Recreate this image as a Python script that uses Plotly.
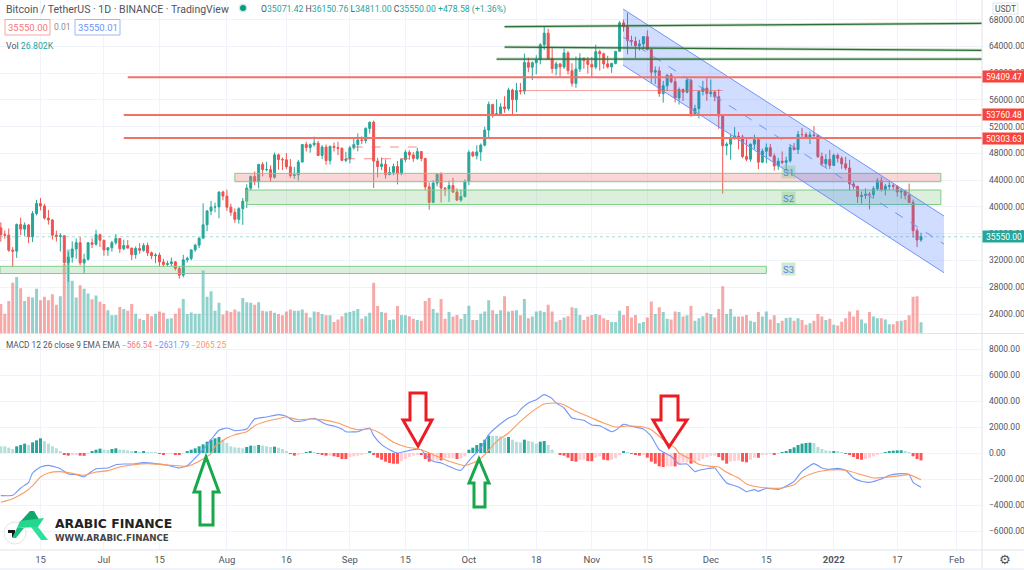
import pandas as pd
import plotly.graph_objects as go

W, H = 1024, 570

start_date = "2021-06-05"
closes = [35862, 35793, 33549, 33402, 37389, 36693, 37313, 35551, 39017, 40519,
          40162, 38341, 38053, 35787, 35615, 35698, 31676, 32505, 33723, 34662,
          31637, 32186, 34649, 34434, 35867, 35040,
          33572, 33897, 34668, 35287, 33746, 34235, 33855, 32877, 33798, 33520,
          34240, 33155, 32702, 32822, 31780, 31421, 31533, 31796, 30817, 29807,
          32110, 32313, 33581, 34292, 35350, 37337, 39406, 39995, 40008, 42235, 41626,
          39974, 39201, 38152, 39747, 40869, 42816, 44555, 43798, 46365, 45585,
          45593, 44428, 47793, 47096, 47047, 46004, 44695, 44801, 46717, 49339,
          48905, 49321, 49546, 47706, 48960, 46942, 49058, 48897, 48767, 46970, 47166,
          48847, 49327, 50025, 49944, 51753, 52663, 46863, 46048, 46395, 44850,
          45171, 46063, 44963, 47093, 48177, 47783, 47268, 48279, 47260, 43012,
          40693, 43574, 44897, 42840, 42716, 43208, 42235, 41034, 41564, 43790,
          48165, 47657, 48233, 49245, 51493, 55339, 53797, 53951, 54966, 54690,
          57484, 56041, 57401, 57321, 61593, 60892, 61553, 62026, 64261, 65992,
          62210, 60692, 61393, 60930, 63039, 60363, 58482, 60622, 62227, 61888, 61319,
          60911, 63219, 62896, 61395, 60937, 61470, 63273, 67525, 66971, 64882,
          64774, 64122, 64380, 65466, 63557, 60161, 60368, 56942, 58119, 59697,
          58730, 56289, 57569, 57159, 58960, 53726, 54721, 57274, 57776, 56950,
          57184, 56480, 53601, 49152, 49396, 50441, 50588, 50471, 47545, 47140,
          49389, 50053, 46702, 48343, 48864, 47632, 46131, 46834, 46681, 46914,
          48889, 48588, 50838, 50820, 50399, 50775, 50701, 47543, 46464, 47120, 46216,
          47722, 47286, 46446, 45832, 43451, 43082, 41558, 41733, 41911, 41821,
          42735, 43920, 42591, 43099, 43177, 43113, 42250, 42375, 41744, 40680,
          36457, 35071.42, 35550]
highs = [37700, 36480, 36800, 34000, 37534, 38400, 37700, 37450, 39380, 41064,
         41330, 40500, 39559, 38200, 36457, 36100, 35750, 33298, 34881, 35298,
         35500, 33000, 34749, 35298, 36600, 36000,
         35059, 33977, 34945, 35960, 35284, 35100, 35060, 33900, 34100, 34590,
         34600, 34678, 33339, 33100, 33185, 32250, 31950, 32435, 31900, 31063,
         32859, 32580, 33650, 34500, 35398, 40550, 39542, 40900, 40640, 42316, 42448,
         42599, 40480, 39780, 39969, 41350, 43392, 44700, 45310, 46454, 46700,
         46743, 46218, 48144, 48000, 47399, 48053, 47160, 45980, 47050, 49400,
         49757, 49500, 50500, 49875, 49248, 49343, 49175, 49632, 49757, 48909, 48246,
         49125, 50450, 51000, 50558, 51900, 52780, 52920, 47360, 47399, 47115,
         45990, 46460, 46876, 47250, 48500, 48488, 48188, 48843, 48372, 47347,
         43639, 44000, 45000, 45200, 42966, 43937, 44350, 42787, 42590, 44132,
         48495, 48361, 49228, 49500, 52000, 55750, 55332, 56100, 55500, 56561,
         57839, 57680, 58550, 58532, 62933, 62330, 61750, 62695, 64486, 67000,
         66639, 63732, 61747, 61500, 63710, 63293, 61496, 62499, 62980, 62359, 62405,
         62437, 64270, 63500, 63086, 62600, 61560, 63286, 67789, 68000, 69000,
         65600, 65460, 65000, 65550, 66401, 63500, 61000, 60976, 58866, 59845,
         60029, 59266, 57875, 57700, 59398, 59150, 55280, 57445, 58865, 59249,
         59053, 57375, 57600, 53859, 49700, 50955, 51936, 51200, 50797, 50125,
         49485, 50797, 50205, 48700, 49500, 49436, 47995, 47360, 48300, 47537,
         49328, 49576, 51375, 51810, 51156, 51280, 52088, 50704, 48139, 47900, 48548,
         47954, 47990, 47570, 47505, 47070, 43748, 43145, 42300, 42786, 42248,
         43100, 44322, 44500, 43448, 43800, 43475, 43179, 42691, 42559, 43505,
         41100, 36835, 36150.76]
lows = [34800, 35258, 33300, 31000, 32396, 35800, 35670, 34600, 34757, 38732,
        39506, 38116, 37365, 35129, 34833, 33336, 31251, 28805, 31683, 32286,
        31275, 30151, 32000, 33862, 34231, 34017,
        32711, 32699, 33316, 34357, 33125, 33532, 33777, 32077, 32261, 33004,
        33306, 32658, 32200, 31600, 31133, 31020, 31164, 31100, 30497, 29278,
        29482, 31708, 32000, 33300, 33851, 35205, 36383, 38772, 39200, 38313, 41000,
        39422, 38690, 37642, 37508, 37332, 39853, 42450, 43261, 42779, 44589,
        45341, 43770, 44238, 45579, 45500, 45660, 44376, 44200, 43955, 46644,
        48285, 48120, 49029, 47600, 47138, 46323, 46364, 48285, 47762, 46853, 46700,
        46512, 48584, 48316, 49412, 49500, 50969, 42843, 44412, 45500, 44204,
        44742, 44750, 43370, 44750, 46700, 47070, 46750, 47044, 46829, 42500,
        39600, 40565, 43088, 40675, 41646, 40750, 42098, 40888, 40753, 41410,
        43283, 47440, 47120, 46891, 49056, 50382, 53357, 53617, 53661, 54080,
        54415, 53879, 54167, 56818, 56850, 60150, 58985, 59844, 61322, 63481,
        62000, 60000, 59668, 59510, 60650, 59817, 58000, 57820, 60174, 60673, 59945,
        59405, 60624, 60382, 60677, 60721, 60050, 61322, 63273, 66222, 62822,
        64100, 62250, 63400, 63576, 63400, 58574, 58373, 56474, 55600, 57353,
        58486, 55610, 55317, 55837, 57000, 53500, 53610, 53256, 56666, 55875,
        56458, 55777, 51680, 42000, 47727, 47100, 50039, 48600, 47320, 46852,
        46751, 48633, 45672, 46555, 46547, 47511, 45456, 45550, 46406, 45558,
        46630, 48421, 47920, 50459, 50171, 49412, 50449, 47313, 46096, 45900, 45678,
        46208, 46654, 45696, 45502, 42500, 42645, 40610, 40501, 41200, 39650,
        41268, 42450, 42311, 41725, 42566, 42581, 41540, 41250, 41138, 40553,
        35440, 34008, 34811]
opens = [36880] + closes[:-1]

volume_k = [70, 47, 77, 120, 134, 107, 77, 87, 85, 106, 79, 87, 79, 93, 68, 88, 164, 199, 125, 85,
            114, 106, 95, 81, 90, 75,
            70, 55, 43, 44, 63, 58, 54, 70, 47, 35, 32, 47, 41, 47, 52, 49, 35, 36, 47, 60,
            82, 46, 50, 47, 47, 149, 87, 100, 54, 73, 45,
            54, 51, 57, 52, 84, 74, 73, 68, 74, 54, 52, 54, 49, 46, 43, 52, 57, 54, 54, 57,
            49, 38, 52, 51, 46, 43, 43, 27, 33, 41, 49,
            51, 54, 58, 35, 41, 49, 120, 65, 51, 49, 32, 33, 65, 44, 43, 41, 35, 32, 30, 77,
            84, 58, 49, 82, 35, 51, 40, 44, 35, 46,
            66, 32, 32, 47, 52, 79, 55, 46, 55, 88, 52, 54, 55, 43, 82, 36, 40, 52, 54, 51,
            68, 52, 28, 32, 38, 41, 62, 60, 44, 32, 40,
            44, 46, 44, 36, 32, 27, 27, 54, 44, 65, 38, 44, 24, 27, 38, 76, 46, 62, 51, 35,
            33, 52, 51, 40, 43, 65, 30, 36, 41, 49,
            46, 38, 58, 112, 46, 58, 40, 40, 40, 44, 30, 27, 51, 40, 52, 33, 43, 25, 30, 37,
            38, 30, 36, 32, 21, 24, 30, 46, 40, 32, 35,
            21, 19, 28, 36, 52, 40, 55, 33, 24, 51, 40, 36, 36, 33, 22, 22, 29, 30, 32, 43,
            87, 88, 26.802]

macd_hist = [515, 515, 410, 310, 515, 615, 720, 615, 820, 975, 1130, 925, 720, 515, 360, 155,
             -100, -205, -155, -130, -205, -220, -50, 100, 255, 335, 255, 230, 310, 360, 255,
             250, 205, 100, 155, 75, 155, 75, 50, 25, -75, -100, -75, -50, -125, -155, -50,
             100, 255, 360, 515, 665, 870, 1025, 1130, 1230, 1025, 770, 515, 435, 410, 360,
             460, 565, 560, 615, 565, 515, 460, 490, 410, 310, 155, -75, -205, -155, -50, 25,
             100, 75, -25, -100, -205, -200, -255, -310, -460, -465, -310, -255, -205, -100,
             -50, 155, -155, -360, -515, -665, -770, -820, -825, -615, -460, -310, -205, -100,
             -110, -460, -665, -565, -560, -570, -410, -405, -400, -460, -410, -255, 255, 410,
             615, 770, 1025, 1335, 1330, 1325, 1280, 1180, 1230, 1025, 870, 820, 1025, 925,
             870, 720, 870, 925, 615, 255, 0, -155, -205, -360, -615, -665, -515, -505, -620,
             -625, -360, -255, -515, -565, -515, -410, -155, 155, 50, -50, -155, -205, -100,
             -360, -665, -820, -1025, -1075, -1025, -1020, -1030, -925, -720, -715, -820, -720,
             -615, -460, -310, -205, -200, -310, -565, -820, -665, -615, -565, -665, -720,
             -515, -360, -365, -155, -100, -50, -125, -25, 50, 125, 310, 435, 615, 720, 770,
             795, 770, 460, 310, 205, 100, 155, 100, 75, -50, -155, -310, -460, -515, -460,
             -360, -255, -100, -50, 75, 130, 180, 205, 210, 155, 75, -255, -460, -566.54]

# macd and signal are read at the turning points only, day = index into dates
macd_days = [0, 3, 5, 7, 8, 10, 12, 14, 15, 17, 19, 21, 22, 24, 27, 29, 31, 33, 36, 39, 42, 45, 47, 49,
             51, 53, 55, 57, 59, 62, 64, 67, 70, 72, 74, 76, 79, 82, 84, 86, 87, 90, 91, 93, 94, 96,
             98, 100, 102, 104, 106, 107, 109, 111, 113, 115, 116, 117, 119, 121, 123, 125, 128,
             130, 131, 133, 135, 137, 139, 140, 142, 144, 147, 149, 151, 154, 155, 157, 159, 162,
             164, 166, 169, 171, 173, 175, 176, 178, 180, 181, 183, 185, 186, 188, 190, 191, 193,
             196, 197, 200, 202, 205, 207, 209, 211, 213, 215, 217, 219, 222, 224, 227, 229, 230, 232]
macd_line = [-3282, -3256, -2692, -2256, -1538, -1077, -948, -1102, -1205, -1615, -1666, -1846, -1615,
             -1205, -1153, -897, -846, -846, -743, -820, -948, -1153, -974, -384, 257, 1026, 1744,
             1923, 1718, 1846, 2616, 2770, 2949, 2821, 2436, 2462, 2667, 2205, 2077, 1846, 1641,
             1641, 1744, 1923, 1333, 641, 257, 0, 128, 257, 257, -128, -641, -769, -1026, -1282,
             -1333, -974, -256, 385, 1410, 2000, 2693, 2949, 3334, 3846, 4103, 4487, 4180, 3846,
             3462, 2693, 2513, 2154, 2103, 1641, 1744, 2205, 2051, 1846, 1282, 257, -256, -846,
             -846, -1435, -1333, -1205, -1153, -1538, -2307, -2512, -2615, -2974, -2820, -2948,
             -2717, -2794, -2692, -2179, -1410, -820, -1153, -1256, -1179, -1333, -1923, -2179,
             -2256, -2000, -1717, -1589, -1666, -2256, -2631.79]
signal_days = [0, 3, 6, 8, 10, 12, 15, 18, 21, 24, 27, 30, 33, 37, 40, 43, 47, 49, 51, 53, 54, 57, 59,
               62, 64, 67, 70, 72, 75, 78, 81, 85, 88, 90, 93, 96, 99, 102, 106, 109, 112, 115, 117,
               120, 122, 125, 128, 131, 134, 137, 140, 142, 145, 149, 152, 155, 158, 162, 164, 167,
               170, 171, 174, 176, 179, 181, 183, 186, 188, 191, 195, 197, 200, 202, 205, 207, 211,
               213, 217, 220, 223, 227, 229, 232]
signal_line = [-3794, -3512, -3025, -2512, -1846, -1538, -1435, -1564, -1718, -1461, -1358, -1076,
               -923, -820, -871, -948, -1025, -795, -461, -51, 513, 1154, 1410, 1641, 2103, 2436,
               2641, 2769, 2564, 2616, 2564, 2308, 1949, 1795, 1846, 1462, 821, 487, 257, -128,
               -512, -820, -974, -641, -128, 898, 1539, 2436, 3205, 3770, 3846, 3718, 3205, 2693,
               2308, 2000, 2077, 2000, 1795, 1026, 385, 0, -513, -871, -1025, -1076, -1487, -1923,
               -2384, -2615, -2717, -2692, -2435, -1923, -1538, -1384, -1282, -1333, -1666, -1923,
               -1871, -1743, -1666, -2065.25]

tick_dates = ["2021-06-15", "2021-07-01", "2021-07-15", "2021-08-01", "2021-08-16", "2021-09-01",
              "2021-09-15", "2021-10-01", "2021-10-18", "2021-11-01", "2021-11-15", "2021-12-01",
              "2021-12-15", "2022-01-01", "2022-01-17", "2022-02-01"]
tick_labels = ["15", "Jul", "15", "Aug", "16", "Sep", "15", "Oct", "18", "Nov", "15", "Dec", "15",
               "<b>2022</b>", "17", "Feb"]
price_ticks = [24000, 28000, 32000, 36000, 40000, 44000, 48000, 52000, 56000, 60000, 64000, 68000]
macd_ticks = [-6000, -4000, -2000, 0, 2000, 4000, 6000, 8000]
red_levels = [("2021-07-07", 59409.47), ("2021-07-06", 53760.48), ("2021-07-06", 50303.63)]
green_levels = [("2021-10-10", 66950, 67460), ("2021-10-10", 63914, 63421), ("2021-10-08", 62120, 62120)]

FONT = "Roboto"
TEXT = "#50535e"
UP, DOWN = "#26a69a", "#ef5350"
GRID = "#f0f3fa"
BORDER = "#e0e3eb"
X_RANGE = ["2021-06-04 19:00", "2022-02-07 09:00"]
X_END = X_RANGE[1]

dates = pd.date_range(start_date, periods=len(closes), freq="D")


def paper(x, y):
    return x / W, 1 - y / H


def poly(points, color=None, line=None, width=0):
    # closed polygon given in picture pixels
    pts = [paper(x, y) for x, y in points]
    path = "M " + " L ".join("%.5f,%.5f" % p for p in pts) + " Z"
    return dict(type="path", xref="paper", yref="paper", path=path, fillcolor=color or "rgba(0,0,0,0)",
                line=dict(color=line or "rgba(0,0,0,0)", width=width), layer="above")


def note(text, x, y, size=9.5, color=TEXT, anchor="left", **kw):
    px, py = paper(x, y)
    return dict(text=text, x=px, y=py, xref="paper", yref="paper", showarrow=False, xanchor=anchor,
                yanchor="middle", font=dict(family=kw.pop("family", FONT), size=size, color=color),
                borderpad=kw.pop("borderpad", 0), **kw)


def rule(x0, y0, x1, y1, color, width=1, dash="solid"):
    return dict(type="line", xref="x", yref="y2", x0=x0, y0=y0, x1=x1, y1=y1, layer="above",
                line=dict(color=color, width=width, dash=dash))


def zone(x0, y0, x1, y1, fill, line="#82cc88"):
    return dict(type="rect", xref="x", yref="y2", x0=x0, y0=y0, x1=x1, y1=y1, layer="above",
                fillcolor=fill, line=dict(color=line, width=1))


fig = go.Figure()

vol_colors = ["rgba(38,166,154,0.5)" if c >= o else "rgba(239,83,80,0.5)" for o, c in zip(opens, closes)]
fig.add_trace(go.Bar(x=dates, y=volume_k, marker=dict(color=vol_colors, line_width=0), xaxis="x", yaxis="y",
                     hoverinfo="skip"))
fig.add_trace(go.Candlestick(x=dates, open=opens, high=highs, low=lows, close=closes, xaxis="x", yaxis="y2",
                             increasing=dict(line=dict(color=UP, width=1), fillcolor=UP),
                             decreasing=dict(line=dict(color=DOWN, width=1), fillcolor=DOWN),
                             whiskerwidth=0, hoverinfo="skip"))

hist_colors = []
for i, v in enumerate(macd_hist):
    prev = macd_hist[i - 1] if i else v
    if v >= 0:
        hist_colors.append("#26a69a" if v > prev else "#b2dfdb")
    else:
        hist_colors.append("#ffcdd2" if v > prev else "#ff5252")
fig.add_trace(go.Bar(x=dates, y=macd_hist, marker=dict(color=hist_colors, line_width=0), xaxis="x2", yaxis="y3",
                     hoverinfo="skip"))
fig.add_trace(go.Scatter(x=dates[macd_days], y=macd_line, mode="lines", xaxis="x2", yaxis="y3", hoverinfo="skip",
                         line=dict(color="#7496fb", width=1.1, shape="spline", smoothing=0.5)))
fig.add_trace(go.Scatter(x=dates[signal_days], y=signal_line, mode="lines", xaxis="x2", yaxis="y3", hoverinfo="skip",
                         line=dict(color="#fb9c60", width=1.1, shape="spline", smoothing=0.5)))

shapes = []
# last price dotted line
shapes.append(rule(X_RANGE[0], closes[-1], X_END, closes[-1], "rgba(38,166,154,0.4)", 1, "dot"))
# support zones
shapes.append(zone("2021-08-03", 43777, "2022-01-28", 45032, "rgba(240,128,128,0.32)"))
shapes.append(zone("2021-08-06", 40368, "2022-01-28", 42536, "rgba(120,195,125,0.26)"))
shapes.append(zone(X_RANGE[0], 30053, "2021-12-15", 31129, "rgba(120,195,125,0.26)"))
# descending channel, underscore stands for the space in path dates
ch_x0, ch_x1 = "2021-11-08_21:00", "2022-01-28_19:00"
shapes.append(dict(type="path", xref="x", yref="y2", layer="above", fillcolor="rgba(41,98,255,0.22)",
                   line=dict(width=0),
                   path="M %s,69600 L %s,38650 L %s,30175 L %s,61225 Z" % (ch_x0, ch_x1, ch_x1, ch_x0)))
ch_x0, ch_x1 = ch_x0.replace("_", " "), ch_x1.replace("_", " ")
shapes.append(rule(ch_x0, 69600, ch_x1, 38650, "#6f93fb", 1))
shapes.append(rule(ch_x0, 61225, ch_x1, 30175, "#6f93fb", 1))
shapes.append(rule(ch_x0, 65410, ch_x1, 34460, "#6f93fb", 1, "dash"))
# horizontal levels
for x0, level in red_levels:
    shapes.append(rule(x0, level, X_END, level, "#f4716a", 2))
for x0, y0, y1 in green_levels:
    shapes.append(rule(x0, y0, X_END, y1, "rgba(60,140,70,0.3)", 3))
    shapes.append(rule(x0, y0, X_END, y1, "#2c6e35", 1.2))
shapes.append(rule("2021-10-14", 57411, "2021-12-04", 57411, "rgba(240,96,90,0.6)", 1))
shapes.append(rule("2021-09-02", 48965, "2021-09-18", 48965, "rgba(240,96,90,0.7)", 1, "dash"))
shapes.append(rule("2021-08-31", 47215, "2021-09-17", 47215, "rgba(240,96,90,0.7)", 1, "dash"))

# arrows drawn on the macd pane
GREEN_ARROW, RED_ARROW = "#18a84c", "#ed1c24"
shapes.append(poly([(206, 457), (219, 492), (213, 492), (213, 525), (200, 525), (200, 492), (194, 492)],
                   line=GREEN_ARROW, width=3))
shapes.append(poly([(479, 459), (489, 483), (485, 483), (485, 507), (474, 507), (474, 483), (469, 483)],
                   line=GREEN_ARROW, width=3))
shapes.append(poly([(418, 446), (432, 420), (426, 420), (426, 393), (410, 393), (410, 420), (403, 420)],
                   line=RED_ARROW, width=3))
shapes.append(poly([(669, 447), (687, 420), (678, 420), (678, 396), (661, 396), (661, 420), (653, 420)],
                   line=RED_ARROW, width=3))

# watermark logo
x0, y0 = paper(4, 522)
x1, y1 = paper(26, 544)
shapes.append(dict(type="circle", xref="paper", yref="paper", x0=x0, y0=y0, x1=x1, y1=y1, layer="above",
                   fillcolor="white", line=dict(color="#e6e6e6", width=1)))
shapes.append(poly([(8, 530), (15, 530), (15, 537), (12, 537), (12, 533), (8, 533)], color="#1a1a1a"))
shapes.append(poly([(30, 511), (34, 511), (40, 521), (20, 522)], color="#12a86b"))
shapes.append(poly([(20, 521), (44, 518), (38, 527), (17, 528)], color="#25d68e"))
shapes.append(poly([(31, 527), (38, 527), (48, 540), (41, 540)], color="#2ee09a"))
shapes.append(poly([(17, 528), (24, 528), (16, 538), (12, 538)], color="#1cc184"))

# separators and bottom strip
for sep_y in [333.5, 550]:
    px0, py0 = paper(0, sep_y)
    px1, _ = paper(1024, sep_y)
    shapes.append(dict(type="line", xref="paper", yref="paper", x0=px0, y0=py0, x1=px1, y1=py0, layer="above",
                       line=dict(color=BORDER, width=1)))
px0, py0 = paper(982, 0)
_, py1 = paper(982, 568)
shapes.append(dict(type="line", xref="paper", yref="paper", x0=px0, y0=py0, x1=px0, y1=py1, layer="above",
                   line=dict(color=BORDER, width=1)))
_, py0 = paper(0, 568)
shapes.append(dict(type="rect", xref="paper", yref="paper", x0=0, x1=1, y0=0, y1=py0, layer="above",
                   fillcolor="#f0f3fa", line=dict(width=0)))
# order book boxes in the header
for bx0, bx1, col in [(5, 50, "#f7a5a5"), (75, 120, "#9db7fb")]:
    p0 = paper(bx0, 19.5)
    p1 = paper(bx1, 35)
    shapes.append(dict(type="rect", xref="paper", yref="paper", x0=p0[0], y0=p0[1], x1=p1[0], y1=p1[1],
                       layer="above", fillcolor="white", line=dict(color=col, width=1)))
p0 = paper(993, 3)
p1 = paper(1018, 14)
shapes.append(dict(type="rect", xref="paper", yref="paper", x0=p0[0], y0=p0[1], x1=p1[0], y1=p1[1],
                   layer="above", fillcolor="white", line=dict(color=BORDER, width=1)))
p0 = paper(240, 5)
p1 = paper(246, 11)
shapes.append(dict(type="circle", xref="paper", yref="paper", x0=p0[0], y0=p0[1], x1=p1[0], y1=p1[1],
                   layer="above", fillcolor="#089981", line=dict(color="rgba(8,153,129,0.2)", width=3)))

notes = []
notes.append(note("Bitcoin / TetherUS · 1D · BINANCE · TradingView", 5, 9, size=10.5))
t = '<span style="color:%s">' % UP
notes.append(note("O" + t + "35071.42</span> H" + t + "36150.76</span> L" + t + "34811.00</span> C" + t
                  + "35550.00</span> " + t + "+478.58 (+1.36%)</span>", 260, 9, size=8.7))
notes.append(note("35550.00", 27.5, 27, size=9.5, color="#f7787a", anchor="center"))
notes.append(note("0.01", 62, 27, size=8.5, color="#8a8d96", anchor="center"))
notes.append(note("35550.01", 97.5, 27, size=9.5, color="#6f93fb", anchor="center"))
notes.append(note("Vol " + t + "26.802K</span>", 5, 46, size=8.8))
notes.append(note('MACD 12 26 close 9 EMA EMA <span style="color:#f7787a">−566.54</span> '
                  '<span style="color:#6f93fb">−2631.79</span> <span style="color:#fb9c60">−2065.25</span>',
                  5, 345, size=8.3))
notes.append(note("USDT", 1005.5, 8.5, size=8.5, anchor="center"))
for level, y in [(59409.47, 77), (53760.48, 115), (50303.63, 138)]:
    notes.append(note("%.2f" % level, 982, y, size=8.5, color="white", bgcolor="#f7453d", width=42, height=11))
notes.append(note("35550.00", 982, 237, size=8.5, color="white", bgcolor=UP, width=42, height=11))
for label, y in [("S1", 172), ("S2", 198), ("S3", 269)]:
    notes.append(note(label, 788, y, size=9.5, color="#5b82e6", anchor="center", bgcolor="rgba(120,195,125,0.35)",
                      width=13, height=12))
notes.append(note("<b>ARABIC FINANCE</b>", 54, 523, size=12.4, color="#222222", family="DejaVu Sans"))
notes.append(note("<b>WWW.ARABIC.FINANCE</b>", 54, 538, size=8.7, color="#444444", family="DejaVu Sans"))
notes.append(note("⚙", 1005, 559, size=13, color="#50535e", anchor="center", family="DejaVu Sans"))

main_bottom = paper(0, 333.5)[1]
macd_top = paper(0, 334)[1]
macd_bottom = paper(0, 550)[1]
plot_right = 982 / W

fig.update_layout(
    width=W, height=H, autosize=False, showlegend=False, plot_bgcolor="white", paper_bgcolor="white",
    margin=dict(l=0, r=0, t=0, b=0), bargap=0.25, font=dict(family=FONT, size=8.5, color=TEXT),
    xaxis=dict(domain=[0, plot_right], range=X_RANGE, type="date", anchor="y", rangeslider=dict(visible=False),
               tickvals=tick_dates, showticklabels=False, showgrid=True, gridcolor=GRID, zeroline=False, ticks=""),
    xaxis2=dict(domain=[0, plot_right], range=X_RANGE, type="date", anchor="y3", tickvals=tick_dates,
                ticktext=tick_labels, showgrid=True, gridcolor=GRID, zeroline=False, ticks="",
                ticklabelstandoff=2, tickfont=dict(size=9.5, color=TEXT, family=FONT)),
    yaxis=dict(domain=[main_bottom, 1], range=[0, 790], visible=False, fixedrange=True),
    yaxis2=dict(domain=[main_bottom, 1], range=[21087, 70945], overlaying="y", side="right", anchor="x",
                tickvals=price_ticks, tickformat=".2f", showgrid=True, gridcolor=GRID, zeroline=False, ticks="",
                ticklabelstandoff=6, tickfont=dict(size=8.5, color=TEXT, family=FONT)),
    yaxis3=dict(domain=[macd_bottom, macd_top], range=[-7461, 9154], side="right", anchor="x2",
                tickvals=macd_ticks, tickformat=".2f", showgrid=True, gridcolor=GRID, zeroline=False, ticks="",
                ticklabelstandoff=6, tickfont=dict(size=8.5, color=TEXT, family=FONT)),
    shapes=shapes, annotations=notes,
)

fig.write_html("out.html", config=dict(displayModeBar=False),
               post_script="document.body.style.margin='0';document.documentElement.style.overflow='hidden';")
